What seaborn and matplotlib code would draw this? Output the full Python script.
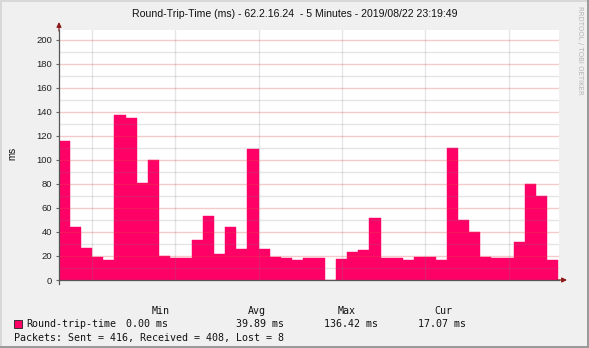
import matplotlib
matplotlib.use("Agg")
import matplotlib.pyplot as plt
import seaborn as sns
import pandas as pd
import numpy as np
from matplotlib.patches import Rectangle

# ---- data ----
slots = list(range(45))
rtt_ms = [116, 44, 27, 19, 17, 137, 135, 81, 100, 20,
          18.5, 18, 33, 53, 22, 44, 26, 109, 26, 19,
          18, 17, 18.5, 18.5, 0, 17.5, 23, 25, 52, 18,
          18, 17, 19, 19, 17, 110, 50, 40, 19, 18,
          18, 32, 80, 70, 17]
y_ticks = list(range(0, 201, 20))
title = "Round-Trip-Time (ms) - 62.2.16.24  - 5 Minutes - 2019/08/22 23:19:49"
legend_headers = ["Min", "Avg", "Max", "Cur"]
legend_values = ["0.00 ms", "39.89 ms", "136.42 ms", "17.07 ms"]
series_name = "Round-trip-time"
packets_text = "Packets: Sent = 416, Received = 408, Lost = 8"

BAR = "#FF0066"
BG = "#F0F0F0"

df = pd.DataFrame({"slot": slots, "rtt": rtt_ms})

W, H = 589, 348
fig = plt.figure(figsize=(W / 100, H / 100), dpi=100)
fig.patch.set_facecolor(BG)

def fx(px):
    return px / W

def fy(py):
    return 1 - py / H

ax = fig.add_axes([fx(59), fy(280), fx(500), (280 - 30) / H])
ax.set_facecolor("white")

sns.barplot(data=df, x="slot", y="rtt", color=BAR, width=1.0, ax=ax,
            saturation=1, edgecolor=BAR, linewidth=0.3, zorder=2)

ax.set_xlim(-0.5, 44.6)
ax.set_ylim(0, 208)

# grid lines (drawn over the area like rrdtool)
for v in range(10, 201, 10):
    if v % 20 == 0:
        ax.axhline(v, color="#E05050", alpha=0.3, lw=1, zorder=3)
    else:
        ax.axhline(v, color="#808080", alpha=0.2, lw=1, zorder=3)
x0, x1 = ax.get_xlim()
for px in [92, 175, 259, 342, 425, 509]:
    frac = (px - 59) / 500
    ax.axvline(x0 + frac * (x1 - x0), color="#808080", alpha=0.2, lw=1, zorder=3)

ax.set_yticks(y_ticks)
ax.set_yticklabels([str(t) for t in y_ticks], fontfamily="Liberation Sans", fontsize=6.8, color="#222222")
ax.tick_params(axis="y", length=2.5, width=0.8, color="#666666", pad=2.5)
ax.set_xticks([])
ax.set_xlabel("")
ax.set_ylabel("")

for s in ["top", "right"]:
    ax.spines[s].set_visible(False)
for s in ["left", "bottom"]:
    ax.spines[s].set_color("#555555")
    ax.spines[s].set_linewidth(0.9)
    ax.spines[s].set_zorder(4)

# small tick below origin
ax.plot([0, 0], [0, -3.5 / 250], transform=ax.transAxes, color="#555555",
        lw=0.9, clip_on=False, zorder=4)

# axis arrows
ax.annotate("", xy=(fx(567), fy(280)), xytext=(fx(557), fy(280)),
            xycoords="figure fraction", textcoords="figure fraction",
            arrowprops=dict(arrowstyle="-|>", color="#8B1A1A", lw=0.9,
                            mutation_scale=7, shrinkA=0, shrinkB=0))
ax.annotate("", xy=(fx(59), fy(22)), xytext=(fx(59), fy(31)),
            xycoords="figure fraction", textcoords="figure fraction",
            arrowprops=dict(arrowstyle="-|>", color="#8B1A1A", lw=0.9,
                            mutation_scale=7, shrinkA=0, shrinkB=0))

# title & labels
fig.text(fx(295), fy(14), title, ha="center", va="center",
         fontfamily="Liberation Sans", fontsize=7.6, color="#111111")
fig.text(fx(12), fy(153), "ms", rotation=90, ha="center", va="center",
         fontfamily="Liberation Sans", fontsize=7, color="#111111")
fig.text(fx(580), fy(6), "RRDTOOL / TOBI OETIKER", rotation=270, ha="center", va="top",
         fontfamily="DejaVu Sans", fontsize=5.0, color="#B5B5B5")

mono = dict(fontfamily="DejaVu Sans Mono", fontsize=7.2, color="#111111", va="center")
for hx, h in zip([152, 248, 338, 434], legend_headers):
    fig.text(fx(hx), fy(311), h, ha="left", **mono)
fig.patches.append(Rectangle((fx(14), fy(327.5)), fx(7.5), 7.5 / H, transform=fig.transFigure,
                             facecolor=BAR, edgecolor="#222222", lw=0.6))
fig.text(fx(26), fy(324), series_name, ha="left", **mono)
for vx, v in zip([126, 236, 324, 418], legend_values):
    fig.text(fx(vx), fy(324), v, ha="left", **mono)
fig.text(fx(14), fy(337.5), packets_text, ha="left", **mono)

# 3D-ish frame
fig.patches.append(Rectangle((0, 0), fx(1.5), 1, transform=fig.transFigure,
                             facecolor="#D8D8D8", edgecolor="none"))
fig.patches.append(Rectangle((0, 1 - 1.5 / H), 1, 1.5 / H, transform=fig.transFigure,
                             facecolor="#D8D8D8", edgecolor="none"))
fig.patches.append(Rectangle((1 - 2 / W, 0), 2 / W, 1, transform=fig.transFigure,
                             facecolor="#9A9A9A", edgecolor="none"))
fig.patches.append(Rectangle((0, 0), 1, 2 / H, transform=fig.transFigure,
                             facecolor="#9A9A9A", edgecolor="none"))

fig.savefig("out.png", dpi=100, facecolor=BG)
